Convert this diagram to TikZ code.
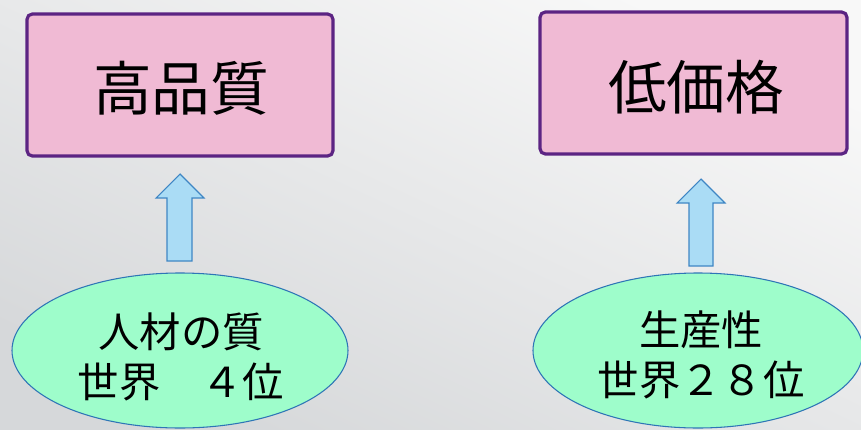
\documentclass[tikz,border=0pt]{standalone}
\usepackage{fontspec}
\newfontfamily\jp{Noto Sans CJK JP}
\definecolor{boxfill}{HTML}{F0BAD4}
\definecolor{boxline}{HTML}{5C2483}
\definecolor{ellfill}{HTML}{9EFDCB}
\definecolor{ellline}{HTML}{2E75B6}
\definecolor{arrfill}{HTML}{AADCF5}
\definecolor{arrline}{HTML}{3F86C4}
\definecolor{bglight}{HTML}{F8F8F8}
\definecolor{bgdark}{HTML}{D6D8DA}
\begin{document}
\begin{tikzpicture}[x=0.75pt,y=-0.75pt,
  goal/.style={draw=boxline,line width=2.4pt,fill=boxfill,rounded corners=4pt,inner sep=0pt,font=\jp\fontsize{44}{50}\selectfont},
  cause/.style={draw=ellline,line width=0.8pt,fill=ellfill,inner sep=0pt,font=\jp\fontsize{31}{37.5}\selectfont,align=center},
  blockarrow/.style={draw=arrline,line width=0.8pt,fill=arrfill,line join=miter}]
\useasboundingbox (0,0) rectangle (861,429);
\shade[top color=bglight,bottom color=bgdark,shading angle=-25] (0,0) rectangle (861,429);
% boxes
\draw[goal] (27,14) rectangle (333,156);
\node[font=\jp\fontsize{44}{50}\selectfont] (hq) at (181,88) {高品質};
\draw[goal] (540,12) rectangle (847,154);
\node[font=\jp\fontsize{44}{50}\selectfont] (lp) at (696,87) {低価格};
% ellipses
\draw[cause] (180,350.5) ellipse [x radius=168, y radius=77.5];
\node[font=\jp\fontsize{31}{37.5}\selectfont,align=center] (talent) at (181,357) {人材の質\\世界　４位};
\draw[cause] (698,350.5) ellipse [x radius=165, y radius=77.5];
\node[font=\jp\fontsize{31}{37.5}\selectfont,align=center] (prod) at (701,355) {生産性\\世界２８位};
% block arrows
\draw[blockarrow] (167,261) -- (167,198) -- (156,198) -- (180,174) -- (204,198) -- (192,198) -- (192,261) -- cycle;
\draw[blockarrow] (689,266) -- (689,203) -- (677,203) -- (701,179) -- (725,203) -- (713,203) -- (713,266) -- cycle;
\end{tikzpicture}
\end{document}
